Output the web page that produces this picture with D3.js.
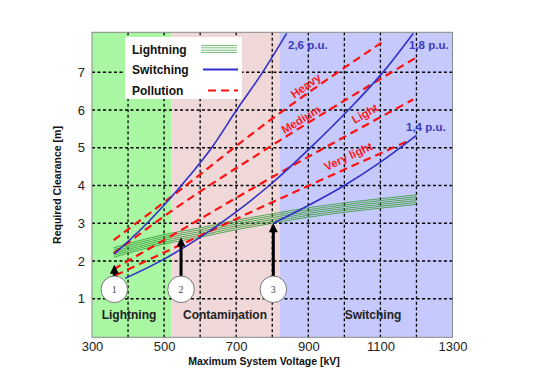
<!DOCTYPE html>
<html><head><meta charset="utf-8">
<script src="https://cdn.jsdelivr.net/npm/d3@7"></script>
<style>body{margin:0;background:#fff;} text{font-family:Arial,"Liberation Sans",sans-serif;}</style>
</head><body><svg id="c" width="538" height="380"></svg>
<script>
// ---- data ----
const xTicks = [300, 500, 700, 900, 1100, 1300];
const xGrid = [400, 500, 600, 700, 800, 900, 1000, 1100, 1200];
const yTicks = [1, 2, 3, 4, 5, 6, 7];
const zoneNames = ["Lightning", "Contamination", "Switching"];
const zoneFrom = [300, 520, 820];
const zoneTo = [520, 820, 1300];

const swNames = ["2,6 p.u.", "1,8 p.u.", "1,4 p.u."];
const sw26kV = [362, 440, 514, 570, 632, 701, 770, 840];
const sw26 = [2.19, 2.88, 3.63, 4.25, 5.0, 6.0, 6.95, 8.03];
const sw18kV = [392, 500, 605, 700, 799, 909, 1011, 1108, 1191];
const sw18 = [1.54, 2.05, 2.66, 3.3, 4.06, 5.03, 6.0, 7.01, 8.03];
const sw14kV = [803, 900, 1000, 1100, 1200];
const sw14 = [3.0, 3.47, 4.0, 4.62, 5.33];

const polNames = ["Heavy", "Medium", "Light", "Very light"];
const heavyKV = [360, 517, 794, 1113];
const heavy = [2.55, 3.68, 5.73, 7.85];
const mediumKV = [360, 517, 794, 1196];
const medium = [2.2, 3.3, 5.03, 7.37];
const lightKV = [360, 517, 794, 1191];
const light = [1.78, 2.65, 4.19, 6.28];
const vlightKV = [365, 517, 794, 1177];
const vlight = [1.62, 2.3, 3.53, 5.18];

const lgtKV = [360, 500, 600, 700, 800, 900, 1000, 1100, 1200];
const lgtCenter = [2.23, 2.58, 2.76, 2.96, 3.13, 3.29, 3.42, 3.53, 3.63];
const lgtOffsets = [-0.13, -0.08, -0.03, 0.02, 0.07, 0.12];

const stepKV = [362, 547, 803];
const stepTip = [1.9, 2.62, 3.0];
const stepLabels = ["1", "2", "3"];

// ---- layout ----
const svg = d3.select("#c");
const x = d3.scaleLinear().domain([300, 1300]).range([92, 452.5]);
const y = d3.scaleLinear().domain([0, 8]).range([336.5, 34.5]);
const L = 92, R = 452.5, T = 32.3, B = 337.3;

// backgrounds
const zoneColors = ["#a9f7a3", "#f0d7d8", "#c6c9fc"];
zoneNames.forEach((n, i) => {
  svg.append("rect").attr("x", x(zoneFrom[i])).attr("y", T)
    .attr("width", x(zoneTo[i]) - x(zoneFrom[i])).attr("height", B - T)
    .attr("fill", zoneColors[i]);
});

// grid
const g = svg.append("g");
g.selectAll("line.v").data(xGrid).join("line")
  .attr("x1", d => x(d)).attr("x2", d => x(d)).attr("y1", T).attr("y2", B)
  .attr("stroke", "#000").attr("stroke-width", 1.3).attr("stroke-dasharray", "3,2.5");
g.selectAll("line.h").data(yTicks).join("line")
  .attr("y1", d => y(d)).attr("y2", d => y(d)).attr("x1", L).attr("x2", R)
  .attr("stroke", "#000").attr("stroke-width", 1.3).attr("stroke-dasharray", "3,2.5");

// frame
svg.append("rect").attr("x", L).attr("y", T).attr("width", R - L).attr("height", B - T)
  .attr("fill", "none").attr("stroke", "#8a8a8a").attr("stroke-width", 1);

// axes labels
const xAxis = d3.axisBottom(x).tickValues(xTicks).tickSize(0).tickFormat(d3.format("d"));
const xa = svg.append("g").attr("transform", `translate(0,${B})`).call(xAxis);
xa.select(".domain").remove();
xa.selectAll("text").attr("y", 14).attr("dy", 0).attr("font-size", 13).attr("fill", "#222")
  .style("font-family", "Arial, 'Liberation Sans', sans-serif");
const yAxis = d3.axisLeft(y).tickValues(yTicks).tickSize(0).tickPadding(7);
const ya = svg.append("g").attr("transform", `translate(${L},0)`).call(yAxis);
ya.select(".domain").remove();
ya.selectAll("text").attr("font-size", 13).attr("fill", "#222")
  .style("font-family", "Arial, 'Liberation Sans', sans-serif");

svg.append("text").attr("x", 264).attr("y", 364.5).attr("text-anchor", "middle")
  .attr("font-size", 10.5).attr("font-weight", "bold").attr("fill", "#111")
  .text("Maximum System Voltage [kV]");
svg.append("text").attr("transform", "translate(61,185) rotate(-90)").attr("text-anchor", "middle")
  .attr("font-size", 10.5).attr("font-weight", "bold").attr("fill", "#111")
  .text("Required Clearance [m]");

// lightning band
const line = d3.line().x(d => x(d[0])).y(d => y(d[1])).curve(d3.curveMonotoneX);
lgtOffsets.forEach(o => {
  svg.append("path").attr("d", line(lgtKV.map((k, i) => [k, lgtCenter[i] + o])))
    .attr("fill", "none").attr("stroke", "#3f9f3f").attr("stroke-width", 0.9);
});

// pollution
const pol = [[heavyKV, heavy], [mediumKV, medium], [lightKV, light], [vlightKV, vlight]];
pol.forEach(([k, v]) => {
  svg.append("path").attr("d", line(k.map((kk, i) => [kk, v[i]])))
    .attr("fill", "none").attr("stroke", "#ff1010").attr("stroke-width", 2.2)
    .attr("stroke-dasharray", "8,5");
});

// switching
const sw = [[sw26kV, sw26], [sw18kV, sw18], [sw14kV, sw14]];
sw.forEach(([k, v]) => {
  svg.append("path").attr("d", line(k.map((kk, i) => [kk, v[i]])))
    .attr("fill", "none").attr("stroke", "#3030c8").attr("stroke-width", 1.6);
});

// switching labels
const swLabelPos = [[288, 49], [409, 49], [406, 131]];
swNames.forEach((n, i) => {
  svg.append("text").attr("x", swLabelPos[i][0]).attr("y", swLabelPos[i][1])
    .attr("font-size", 11.5).attr("font-weight", "bold").attr("fill", "#3a3ac0").text(n);
});

// pollution labels
const polLabelPos = [[308, 89, -35], [303, 123, -31], [367, 117, -30], [350, 160, -25]];
polNames.forEach((n, i) => {
  const p = polLabelPos[i];
  svg.append("text").attr("transform", `translate(${p[0]},${p[1]}) rotate(${p[2]})`)
    .attr("text-anchor", "middle").attr("font-size", 11.5).attr("font-weight", "bold")
    .attr("fill", "#ff1a1a").text(n);
});

// arrows & circles
const circY = 289.3;
stepKV.forEach((k, i) => {
  const cx = x(k);
  const tipY = y(stepTip[i]);
  svg.append("line").attr("x1", cx).attr("x2", cx).attr("y1", circY - 12).attr("y2", tipY + 7)
    .attr("stroke", "#000").attr("stroke-width", 3);
  svg.append("path").attr("d", `M${cx},${tipY} L${cx - 4.5},${tipY + 9} L${cx + 4.5},${tipY + 9} Z`)
    .attr("fill", "#000");
  svg.append("circle").attr("cx", cx).attr("cy", circY).attr("r", 13.3)
    .attr("fill", "#fff").attr("stroke", "#777").attr("stroke-width", 1);
  svg.append("text").attr("x", cx).attr("y", circY + 3.5).attr("text-anchor", "middle")
    .attr("font-size", 10).attr("fill", "#444").style("font-family", "'Liberation Serif', 'DejaVu Serif', serif")
    .text(stepLabels[i]);
});

// zone labels
const zoneLabelPos = [[129, 318.5], [225, 318.5], [373, 318.5]];
zoneNames.forEach((n, i) => {
  svg.append("text").attr("x", zoneLabelPos[i][0]).attr("y", zoneLabelPos[i][1])
    .attr("text-anchor", "middle").attr("font-size", 12).attr("font-weight", "bold")
    .attr("fill", "#222").text(n);
});

// legend
const lg = svg.append("g");
lg.append("rect").attr("x", 125).attr("y", 37).attr("width", 117).attr("height", 62).attr("fill", "#fff");
const legNames = ["Lightning", "Switching", "Pollution"];
const legY = [49, 69.5, 90.5];
legNames.forEach((n, i) => {
  lg.append("text").attr("x", 132).attr("y", legY[i] + 4.5).attr("font-size", 12)
    .attr("font-weight", "bold").attr("fill", "#111").text(n);
});
[-3.5, -1.2, 1.2, 3.5].forEach(o => {
  lg.append("line").attr("x1", 201).attr("x2", 237).attr("y1", legY[0] + o).attr("y2", legY[0] + o)
    .attr("stroke", "#7cc47c").attr("stroke-width", 1);
});
lg.append("line").attr("x1", 203).attr("x2", 238).attr("y1", legY[1]).attr("y2", legY[1])
  .attr("stroke", "#3030c8").attr("stroke-width", 1.8);
lg.append("line").attr("x1", 208).attr("x2", 238).attr("y1", legY[2]).attr("y2", legY[2])
  .attr("stroke", "#ff1010").attr("stroke-width", 2.2).attr("stroke-dasharray", "8,5");
</script></body></html>
